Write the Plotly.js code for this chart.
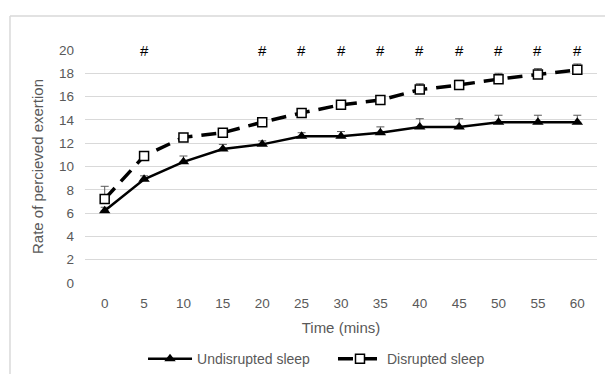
<!DOCTYPE html>
<html>
<head>
<meta charset="utf-8">
<script src="https://cdn.plot.ly/plotly-3.0.1.min.js"></script>
<style>html,body{margin:0;padding:0;background:#fff;}#chart{width:605px;height:374px;}</style>
</head>
<body>
<div id="chart"></div>
<script>
const timeLabels = ['0','5','10','15','20','25','30','35','40','45','50','55','60'];
const undisrupted = [6.2, 8.9, 10.4, 11.5, 11.9, 12.6, 12.6, 12.9, 13.4, 13.4, 13.8, 13.8, 13.8];
const undisruptedErr = [0.3, 0.3, 0.5, 0.4, 0.3, 0.3, 0.4, 0.5, 0.7, 0.7, 0.6, 0.6, 0.6];
const disrupted = [7.2, 10.9, 12.5, 12.9, 13.8, 14.6, 15.3, 15.7, 16.6, 17.0, 17.5, 17.9, 18.3];
const disruptedErr = [1.1, 0.3, 0.3, 0.3, 0.3, 0.3, 0.3, 0.3, 0.5, 0.4, 0.5, 0.5, 0.5];
const sigTimes = ['5','20','25','30','35','40','45','50','55','60'];
const sigY = 20;

const zeros = timeLabels.map(() => 0);
const font = "Liberation Sans, Arial, sans-serif";

const traces = [
  {
    x: timeLabels, y: undisrupted, name: 'Undisrupted sleep', type: 'scatter', mode: 'lines+markers',
    legend: 'legend',
    line: {color: '#000', width: 2.5},
    marker: {symbol: 'triangle-up', size: 10, color: '#000'},
    error_y: {type: 'data', symmetric: false, array: undisruptedErr, arrayminus: zeros, color: '#595959', thickness: 1, width: 4}
  },
  {
    x: timeLabels, y: disrupted, name: 'Disrupted sleep', type: 'scatter', mode: 'lines+markers',
    legend: 'legend2',
    line: {color: '#000', width: 3.5, dash: '15px,9px'},
    marker: {symbol: 'square', size: 9, color: '#fff', line: {width: 1.5, color: '#000'}},
    error_y: {type: 'data', symmetric: false, array: disruptedErr, arrayminus: zeros, color: '#595959', thickness: 1, width: 4}
  }
];

const annotations = sigTimes.map(t => ({
  x: timeLabels.indexOf(t), y: sigY, xref: 'x', yref: 'y', text: '#', showarrow: false,
  font: {family: font, size: 15, color: '#000'}, yanchor: 'middle'
}));

const legendCommon = {
  orientation: 'h', xref: 'container', yref: 'container', xanchor: 'left', y: 0.04, yanchor: 'middle',
  font: {size: 14, color: '#595959'}, itemwidth: 44, bgcolor: 'rgba(0,0,0,0)'
};

const layout = {
  width: 605, height: 374,
  margin: {l: 85, r: 8, t: 50, b: 91, autoexpand: false},
  paper_bgcolor: '#fff', plot_bgcolor: '#fff',
  font: {family: font, color: '#595959', size: 12},
  showlegend: true,
  legend: Object.assign({x: 0.2364}, legendCommon),
  legend2: Object.assign({x: 0.5504}, legendCommon),
  xaxis: {
    type: 'category', range: [-0.5, 12.5], showgrid: false, zeroline: false, showline: false,
    ticks: '', tickfont: {size: 13.5, color: '#595959'}, ticklabelstandoff: 10,
    title: {text: 'Time (mins)', font: {size: 15, color: '#595959'}, standoff: 12}
  },
  yaxis: {
    range: [0, 20], dtick: 2, showgrid: true, gridcolor: '#d9d9d9', gridwidth: 1, zeroline: false,
    showline: false, ticks: '', tickfont: {size: 13.5, color: '#595959'}, ticklabelstandoff: 10,
    title: {text: 'Rate of percieved exertion', font: {size: 15, color: '#595959'}, standoff: 11}
  },
  annotations: annotations,
  shapes: [
    {type: 'line', xref: 'paper', yref: 'paper', x0: -0.1465, x1: 1.1, y0: 1.146, y1: 1.146, line: {color: '#d9d9d9', width: 1.5}},
    {type: 'line', xref: 'paper', yref: 'paper', x0: -0.1465, x1: -0.1465, y0: 1.146, y1: -0.5, line: {color: '#d9d9d9', width: 1.5}}
  ]
};

Plotly.newPlot('chart', traces, layout, {displayModeBar: false, staticPlot: true});
</script>
</body>
</html>
